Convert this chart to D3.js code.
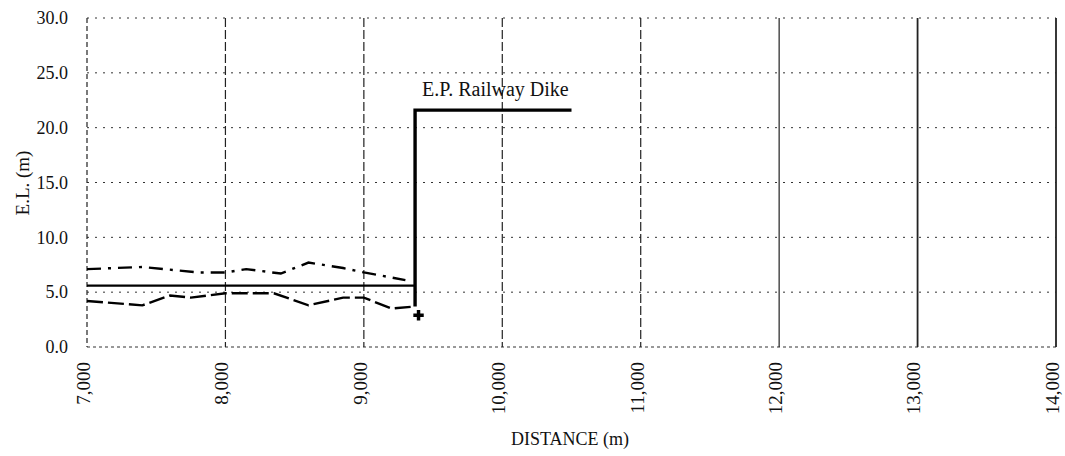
<!DOCTYPE html>
<html>
<head>
<meta charset="utf-8">
<script src="https://cdn.jsdelivr.net/npm/d3@7"></script>
<style>
  html, body { margin: 0; padding: 0; background: #fff; }
  svg { display: block; }
  text { font-family: "Liberation Serif", "Times New Roman", serif; fill: #111; }
</style>
</head>
<body>
<svg id="chart" width="1065" height="456"></svg>
<script>
// Ground profile along the alignment (distance in m, elevation in m)
const xTicks = [7000, 8000, 9000, 10000, 11000, 12000, 13000, 14000];
const yTicks = [0, 5, 10, 15, 20, 25, 30];

// Upper water level (dash-dot)
const upperDist = [7000, 7400, 7800, 8000, 8150, 8400, 8600, 8850, 9000, 9300];
const upperEL   = [7.1, 7.3, 6.8, 6.8, 7.1, 6.7, 7.7, 7.2, 6.8, 6.1];

// Ground / riverbed (long dash)
const lowerDist = [7000, 7400, 7600, 7750, 8000, 8350, 8600, 8850, 9000, 9200, 9370];
const lowerEL   = [4.2, 3.8, 4.7, 4.5, 4.9, 4.9, 3.8, 4.5, 4.5, 3.5, 3.7];

// Design level (solid)
const levelDist = [7000, 9370];
const levelEL   = [5.6, 5.6];

// E.P. Railway Dike section
const dikeDist = [9370, 9370, 10500];
const dikeEL   = [3.7, 21.6, 21.6];

// Point marker at the dike toe
const markDist = [9395];
const markEL   = [2.9];

const dikeLabel = "E.P.  Railway Dike";

const svg = d3.select("#chart");
const x = d3.scaleLinear().domain([7000, 14000]).range([87, 1056]);
const y = d3.scaleLinear().domain([0, 30]).range([347, 18]);

const zip = (xs, ys) => xs.map((d, i) => [d, ys[i]]);
const line = d3.line().x(d => x(d[0])).y(d => y(d[1]));

// horizontal grid
svg.append("g").selectAll("line").data(yTicks).join("line")
  .attr("x1", x(7000)).attr("x2", x(14000))
  .attr("y1", d => y(d)).attr("y2", d => y(d))
  .attr("stroke", "#333").attr("stroke-width", 1)
  .attr("stroke-dasharray", d => d === 0 ? "3,3" : "2,6");

// vertical grid
svg.append("g").selectAll("line").data(xTicks).join("line")
  .attr("x1", d => x(d)).attr("x2", d => x(d))
  .attr("y1", y(30)).attr("y2", y(0))
  .attr("stroke", "#222").attr("stroke-width", d => d >= 13000 ? 1.8 : 1.2)
  .attr("stroke-dasharray", d => d === 7000 ? "5,3" : (d >= 12000 ? "none" : "9,3"));

// y tick labels
svg.append("g").selectAll("text").data(yTicks).join("text")
  .attr("x", 68).attr("y", d => y(d)).attr("dy", "0.35em")
  .attr("text-anchor", "end").attr("font-size", 18)
  .text(d3.format(".1f"));

// x tick labels (rotated)
svg.append("g").selectAll("text").data(xTicks).join("text")
  .attr("transform", d => `translate(${x(d)},362) rotate(-90)`)
  .attr("dy", "0.15em").attr("text-anchor", "end").attr("font-size", 19)
  .text(d3.format(","));

// axis titles
svg.append("text")
  .attr("transform", "translate(22,183) rotate(-90)")
  .attr("dy", "0.35em").attr("text-anchor", "middle").attr("font-size", 19)
  .text("E.L. (m)");
svg.append("text")
  .attr("x", 570).attr("y", 445).attr("text-anchor", "middle").attr("font-size", 18)
  .text("DISTANCE (m)");

// profile lines
svg.append("path").datum(zip(upperDist, upperEL)).attr("d", line)
  .attr("fill", "none").attr("stroke", "#000").attr("stroke-width", 2.4)
  .attr("stroke-dasharray", "14,7,3,7");
svg.append("path").datum(zip(lowerDist, lowerEL)).attr("d", line)
  .attr("fill", "none").attr("stroke", "#000").attr("stroke-width", 2.4)
  .attr("stroke-dasharray", "16,5");
svg.append("path").datum(zip(levelDist, levelEL)).attr("d", line)
  .attr("fill", "none").attr("stroke", "#000").attr("stroke-width", 2.4);
svg.append("path").datum(zip(dikeDist, dikeEL)).attr("d", line)
  .attr("fill", "none").attr("stroke", "#000").attr("stroke-width", 3.4)
  .attr("stroke-linejoin", "miter");

// toe marker
svg.append("g").selectAll("path").data(zip(markDist, markEL)).join("path")
  .attr("transform", d => `translate(${x(d[0])},${y(d[1])})`)
  .attr("d", d3.symbol(d3.symbolCross, 60))
  .attr("fill", "#000");

// dike label
svg.append("text")
  .attr("x", x(dikeDist[1]) + 7).attr("y", y(dikeEL[1]) - 14)
  .attr("font-size", 20)
  .text(dikeLabel);
</script>
</body>
</html>
